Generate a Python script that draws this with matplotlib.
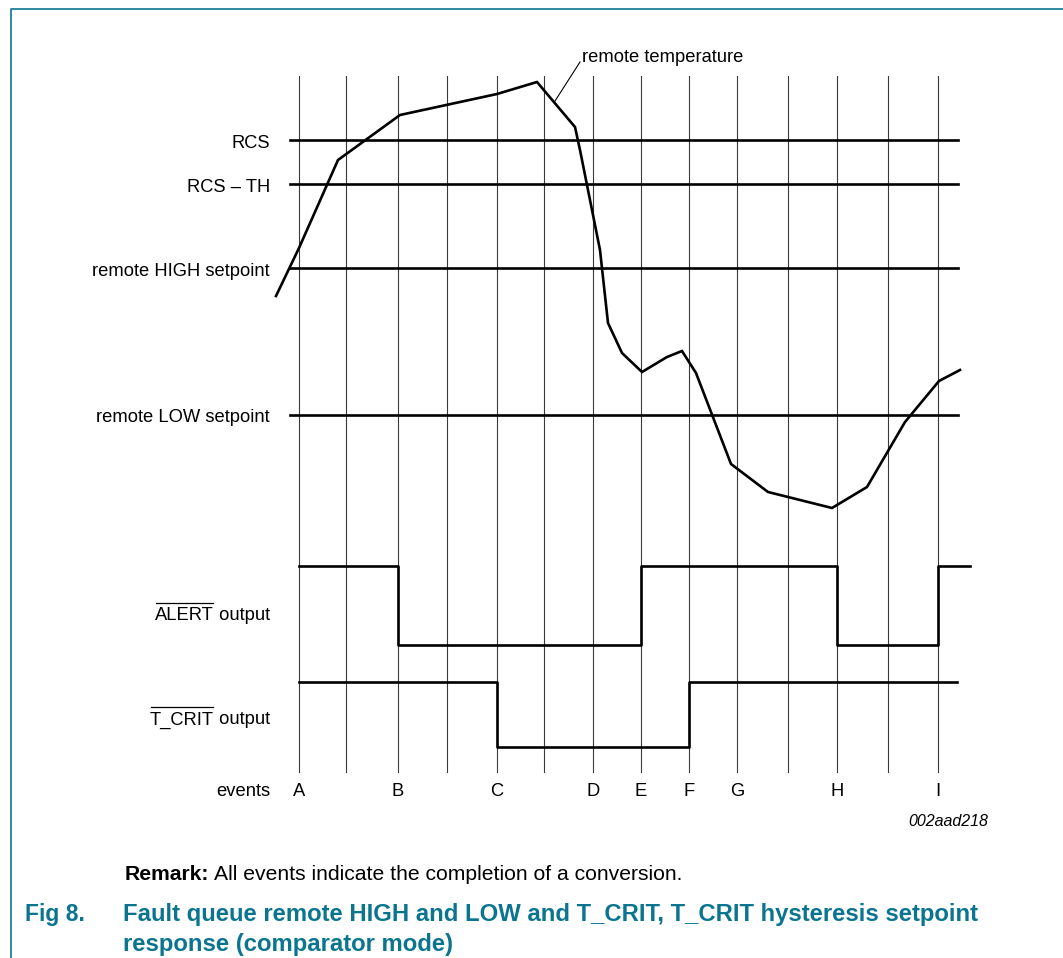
import matplotlib
matplotlib.use("Agg")
import matplotlib.pyplot as plt

plt.rcParams['font.family'] = ['Liberation Sans', 'DejaVu Sans']

# figure laid out in pixel units of the original drawing
W, H = 1063, 958
teal = '#0b7590'
dy = 3  # text centre sits a little low in the original

# vertical event grid (conversion instants)
grid_x = [299, 346, 398, 447, 497, 544, 593, 641, 689, 737, 788, 837, 888, 938]
event_names = ['A', 'B', 'C', 'D', 'E', 'F', 'G', 'H', 'I']
event_x = [299, 398, 497, 593, 641, 689, 737, 837, 938]

# setpoint levels
level_names = ['RCS', 'RCS \u2013 TH', 'remote HIGH setpoint', 'remote LOW setpoint']
level_y = [140, 184, 268, 415]

# remote temperature curve
temp_x = [276, 299, 338, 400, 497, 537, 575, 580, 600, 608, 622, 642, 667, 682, 696,
          731, 768, 832, 867, 905, 939, 960]
temp_y = [296, 248, 160, 115, 94, 82, 127, 150, 250, 323, 353, 372, 357, 351, 373,
          464, 492, 508, 487, 422, 381, 370]

# comparator outputs (steps)
alert_x = [299, 398, 641, 837, 938, 970]
alert_y = [566, 645, 566, 645, 566, 566]
tcrit_x = [299, 497, 689, 957]
tcrit_y = [682, 747, 682, 682]

fig = plt.figure(figsize=(W / 100, H / 100), dpi=100)
ax = fig.add_axes([0, 0, 1, 1])
ax.set_xlim(0, W)
ax.set_ylim(H, 0)
ax.axis('off')

# page frame
ax.plot([11, 11, W], [H, 9, 9], color=teal, lw=1.2, solid_capstyle='butt')

for x in grid_x:
    ax.plot([x, x], [76, 772], color='#3a3a3a', lw=0.8)

lw = 1.9
for name, y in zip(level_names, level_y):
    ax.plot([290, 958], [y, y], color='black', lw=lw)
    ax.text(270, y + dy, name, ha='right', va='center', fontsize=13.2)

ax.plot(temp_x, temp_y, color='black', lw=lw, solid_joinstyle='miter')
ax.plot([555, 580], [101, 62], color='black', lw=0.8)
ax.text(582, 54 + dy, 'remote temperature', ha='left', va='center', fontsize=13.2)

ax.plot(alert_x, alert_y, color='black', lw=lw, drawstyle='steps-post')
ax.plot(tcrit_x, tcrit_y, color='black', lw=lw, drawstyle='steps-post')

# output labels with overlined signal names
fig.canvas.draw()
r = fig.canvas.get_renderer()
inv = ax.transData.inverted()
for sig, y in [('ALERT', 613), ('T_CRIT', 717)]:
    t = ax.text(270, y + dy, ' output', ha='right', va='center', fontsize=13.2)
    bb = t.get_window_extent(r)
    x0 = inv.transform((bb.x0, 0))[0]
    s = ax.text(x0, y + dy, sig, ha='right', va='center', fontsize=13.2)
    bb2 = s.get_window_extent(r)
    xa = inv.transform((bb2.x0, 0))[0]
    ax.plot([xa + 1, x0 - 1], [y - 10, y - 10], color='black', lw=0.9)

ax.text(270, 788 + dy, 'events', ha='right', va='center', fontsize=13.2)
for name, x in zip(event_names, event_x):
    ax.text(x, 788 + dy, name, ha='center', va='center', fontsize=13.2)

ax.text(988, 822, '002aad218', ha='right', va='center', fontsize=11.5, style='italic')

ax.text(125, 874, 'Remark:', ha='left', va='center', fontsize=15.2, weight='bold')
ax.text(214, 874, 'All events indicate the completion of a conversion.', ha='left',
        va='center', fontsize=15.2)

ax.text(25, 914, 'Fig 8.', ha='left', va='center', fontsize=16.5, weight='bold', color=teal)
ax.text(123, 914, 'Fault queue remote HIGH and LOW and T_CRIT, T_CRIT hysteresis setpoint',
        ha='left', va='center', fontsize=17.2, weight='bold', color=teal)
ax.text(123, 944, 'response (comparator mode)', ha='left', va='center', fontsize=17.2,
        weight='bold', color=teal)

fig.savefig('out.png', dpi=100)
